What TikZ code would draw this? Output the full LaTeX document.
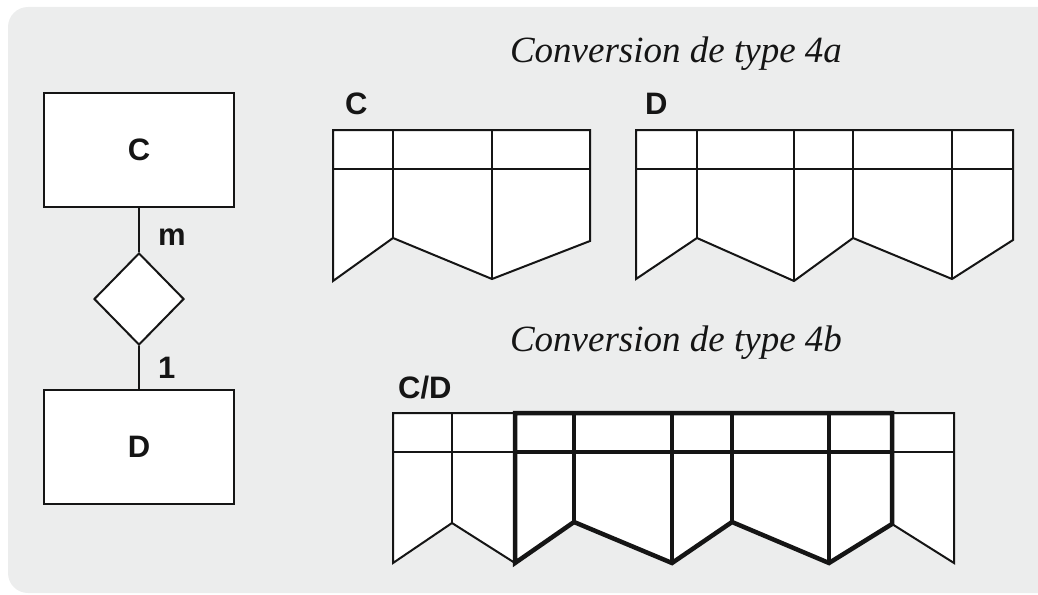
\documentclass[tikz,border=0pt]{standalone}
\usepackage{fontspec}
\setmainfont{Liberation Serif}
\setsansfont{Liberation Sans}
\usetikzlibrary{shapes.geometric}
\definecolor{bg}{HTML}{ECEDED}
\definecolor{ink}{HTML}{151515}
\begin{document}
\begin{tikzpicture}[x=1pt,y=-1pt,line join=miter,
  thinln/.style={draw=ink,line width=2pt},
  thickln/.style={draw=ink,line width=4.5pt},
  entity/.style={draw=ink,fill=white,line width=2pt,minimum width=190pt,minimum height=114pt,inner sep=0pt,font=\sffamily\bfseries\fontsize{31}{31}\selectfont,text=ink},
  rel/.style={draw=ink,fill=white,diamond,line width=2pt,minimum width=90pt,minimum height=92pt,inner sep=0pt},
  lbl/.style={inner sep=0pt,font=\sffamily\bfseries\fontsize{31}{31}\selectfont,text=ink},
  ttl/.style={inner sep=0pt,font=\itshape\fontsize{37}{37}\selectfont,text=ink}]
\useasboundingbox (0,0) rectangle (1038,594);
% background
\fill[bg] (1038,7) -- (28,7) arc[start angle=90,end angle=180,radius=20pt] -- (8,573) arc[start angle=180,end angle=270,radius=20pt] -- (1038,593) -- cycle;

% ER diagram
\node[entity] (C) at (139,150) {C};
\node[rel] (R) at (139,299) {};
\node[entity] (D) at (139,447) {D};
\draw[thinln] (C) -- (R);
\draw[thinln] (R) -- (D);
\node[lbl,anchor=base west] (m) at (158,245) {m};
\node[lbl,anchor=base west] (one) at (158,378) {1};

% titles
\node[ttl,anchor=base] (t4a) at (676,63) {Conversion de type 4a};
\node[ttl,anchor=base] (t4b) at (676,351) {Conversion de type 4b};

% table C
\node[lbl,anchor=base west] (lc) at (345,114) {C};
\filldraw[thinln,fill=white] (333,130) -- (590,130) -- (590,241) -- (492,279) -- (393,238) -- (333,281) -- cycle;
\draw[thinln] (333,169) -- (590,169);
\draw[thinln] (393,130) -- (393,238);
\draw[thinln] (492,130) -- (492,279);

% table D
\node[lbl,anchor=base west] (ld) at (645,114) {D};
\filldraw[thinln,fill=white] (636,130) -- (1013,130) -- (1013,240) -- (952,279) -- (853,238) -- (794,281) -- (697,238) -- (636,279) -- cycle;
\draw[thinln] (636,169) -- (1013,169);
\draw[thinln] (697,130) -- (697,238);
\draw[thinln] (794,130) -- (794,281);
\draw[thinln] (853,130) -- (853,238);
\draw[thinln] (952,130) -- (952,279);

% table C/D
\node[lbl,anchor=base west] (lcd) at (398,398) {C/D};
\filldraw[thinln,fill=white] (393,413) -- (954,413) -- (954,563) -- (892,524) -- (829,563) -- (732,522) -- (672,563) -- (574,522) -- (515,563) -- (452,523) -- (393,563) -- cycle;
\draw[thinln] (393,452) -- (954,452);
\draw[thinln] (452,413) -- (452,523);
% thick part
\draw[thickln] (515,563) -- (515,413) -- (892,413) -- (892,524) -- (829,563) -- (732,522) -- (672,563) -- (574,522) -- cycle;
\draw[thickln] (515,452) -- (892,452);
\draw[thickln] (574,413) -- (574,522);
\draw[thickln] (672,413) -- (672,563);
\draw[thickln] (732,413) -- (732,522);
\draw[thickln] (829,413) -- (829,563);
\end{tikzpicture}
\end{document}
